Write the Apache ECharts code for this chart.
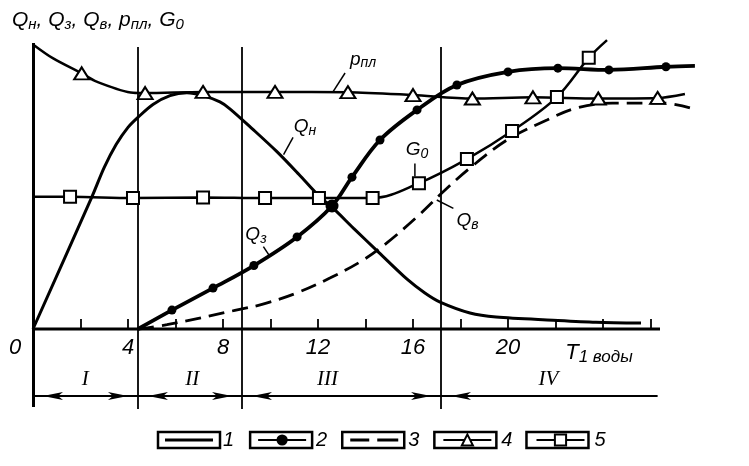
<!DOCTYPE html>
<html>
<head>
<meta charset="utf-8">
<script src="https://cdn.jsdelivr.net/npm/echarts@6.0.0/dist/echarts.min.js"></script>
<style>
html,body{margin:0;padding:0;background:#fff;}
#chart{width:749px;height:466px;}
</style>
</head>
<body>
<div id="chart"></div>
<script>
// ---------------- data ----------------
const xTickValues = [2, 4, 6, 8, 10, 12, 14, 16, 18, 20, 22, 24, 26];
const xLabelValues = [0, 4, 8, 12, 16, 20];
const stageBounds = [0, 4.42, 8.8, 17.18, 26.3];
const stageNames = ['I', 'II', 'III', 'IV'];
const stageLabelX = [2.2, 6.7, 12.4, 21.7];
const legendNames = ['1', '2', '3', '4', '5'];
const xAxisEnd = 26.4;

// 1: Qн (oil rate)
const qnX = [0, 2.48, 3.0, 3.5, 4.0, 4.42, 5.05, 5.77, 6.48, 7.16, 7.87, 8.29, 9.26, 10.27, 11.2, 12.04, 12.59, 13.5, 14.48, 15.75, 16.5, 17.14, 18.4, 19.5, 21.9, 23.7, 25.6];
const qnY = [0, 46.2, 56.5, 64.5, 70.5, 74.0, 78.5, 81.6, 82.6, 81.6, 79.4, 77.0, 69.8, 62.0, 54.0, 46.5, 42.6, 35.2, 27.4, 17.4, 12.6, 9.4, 5.6, 4.2, 3.1, 2.4, 2.1];

// 2: Qз (injection)
const q3X = [4.42, 5.85, 7.58, 9.3, 11.12, 12.59, 13.43, 14.61, 16.17, 17.85, 20.0, 22.1, 24.25, 26.65, 27.87];
const q3Y = [0, 6.6, 14.3, 22.2, 32.2, 43.0, 53.1, 66.1, 76.6, 85.3, 89.9, 91.2, 90.6, 91.7, 92.0];
const q3Dot = [0, 1, 1, 1, 1, 1, 1, 1, 1, 1, 1, 1, 1, 1, 0];
const junctionX = 12.59;

// 3: Qв (water)
const qvX = [4.42, 5.64, 8.5, 9.68, 11.1, 12.5, 13.9, 14.9, 16.17, 17.26, 18.4, 19.96, 21.64, 22.9, 24.4, 26.5, 27.66];
const qvY = [0, 1.5, 6.5, 8.7, 12.6, 17.8, 24.1, 30.1, 39.2, 47.9, 56.3, 66.1, 73.1, 77.3, 79.0, 79.0, 77.3];

// 4: pпл (reservoir pressure)
const rhoX = [0, 0.85, 2.05, 2.68, 4.22, 4.72, 7.16, 10.19, 13.26, 16.0, 18.5, 21.05, 23.8, 26.3, 27.45];
const rhoY = [99.5, 94.6, 89.4, 86.5, 82.6, 82.5, 82.9, 82.9, 82.8, 81.8, 80.6, 81.0, 80.6, 80.8, 82.2];
const rhoMark = [0, 0, 1, 0, 0, 1, 1, 1, 1, 1, 1, 1, 1, 1, 0];

// 5: G0 (gas factor)
const g0X = [0, 1.56, 4.21, 7.16, 9.77, 12.04, 14.3, 16.25, 18.27, 20.17, 22.06, 23.4, 24.17];
const g0Y = [46.2, 46.2, 45.8, 46.0, 45.8, 45.8, 45.8, 51.0, 59.4, 69.2, 81.1, 94.8, 101.0];
const g0Mark = [0, 1, 1, 1, 1, 1, 1, 1, 1, 1, 1, 1, 0];

// ---------------- build ----------------
const FONT = "'Liberation Sans', Arial, sans-serif";
const SERIF = "'Liberation Serif', 'DejaVu Serif', serif";
const BLACK = '#000';

const pairs = (xs, ys) => xs.map((x, i) => [x, ys[i]]);
const marked = (xs, ys, flags) => xs.map((x, i) => flags[i] ? [x, ys[i]] : { value: [x, ys[i]], symbol: 'none' });

const q3Data = marked(q3X, q3Y, q3Dot).map(d => (Array.isArray(d) && d[0] === junctionX) ? { value: d, symbolSize: 13 } : d);

const arrowY = -23.4;
const frameLines = [];
frameLines.push([{ coord: [0, -27.3], lineStyle: { width: 3 } }, { coord: [0, 100], lineStyle: { width: 3 } }]);
stageBounds.slice(1, 4).forEach(b => {
  frameLines.push([{ coord: [b, -28] }, { coord: [b, 98.6] }]);
});
for (let i = 0; i < stageNames.length; i++) {
  frameLines.push([
    { coord: [stageBounds[i], arrowY], symbol: 'arrow' },
    { coord: [stageBounds[i + 1], arrowY], symbol: i < stageNames.length - 1 ? 'arrow' : 'none' }
  ]);
}

const GRID_TOP = 34.42, GRID_H = 374.66;
const zeroOffset = 329 - (GRID_TOP + GRID_H); // move the x axis up onto y = 0

const lineIcon = 'path://M0,5.5h48v3h-48z';
const dashIcon = 'path://M0,5.5h19v3h-19zM27,5.5h21v3h-21z';

const option = {
  animation: false,
  backgroundColor: '#fff',
  grid: { left: 33, top: GRID_TOP, width: 665, height: GRID_H, containLabel: false, outerBoundsMode: 'none' },
  xAxis: {
    type: 'value', min: 0, max: 28, position: 'bottom', offset: zeroOffset,
    axisLine: { show: false, onZero: false },
    splitLine: { show: false },
    axisTick: { show: true, inside: true, length: 10, lineStyle: { color: BLACK, width: 1.8 }, customValues: xTickValues },
    axisLabel: {
      customValues: xLabelValues, margin: 8, color: BLACK, fontSize: 22, fontStyle: 'italic', fontFamily: FONT,
      formatter: v => v === 0 ? '{z|0}' : String(v),
      rich: { z: { padding: [0, 36, 0, 0], fontSize: 22, fontStyle: 'italic', fontFamily: FONT, color: BLACK } }
    }
  },
  yAxis: { type: 'value', min: -28, max: 103, show: false },
  legend: {
    data: [
      { name: '1', icon: lineIcon },
      { name: '2' },
      { name: '3', icon: dashIcon },
      { name: '4' },
      { name: '5' }
    ],
    left: 165, top: 430, padding: 0, itemWidth: 48, itemHeight: 14, itemGap: 23,
    selectedMode: false,
    textStyle: { fontSize: 20, fontStyle: 'italic', fontFamily: FONT, color: BLACK, padding: [0, 0, 0, 5], lineHeight: 20 }
  },
  series: [
    {
      name: legendNames[0], type: 'line', data: pairs(qnX, qnY), smooth: 0.3, symbol: 'none', clip: false, z: 3,
      lineStyle: { color: BLACK, width: 3 }, itemStyle: { color: BLACK }
    },
    {
      name: legendNames[1], type: 'line', data: q3Data, smooth: 0.35, symbol: 'circle', symbolSize: 9, showSymbol: true, clip: false, z: 4,
      lineStyle: { color: BLACK, width: 3.8 }, itemStyle: { color: BLACK }
    },
    {
      name: legendNames[2], type: 'line', data: pairs(qvX, qvY), smooth: 0.35, symbol: 'none', clip: false, z: 3,
      lineStyle: { color: BLACK, width: 2.8, type: [16, 8] }, itemStyle: { color: BLACK }
    },
    {
      name: legendNames[3], type: 'line', data: marked(rhoX, rhoY, rhoMark), smooth: 0.3, symbol: 'emptyTriangle', symbolSize: [15, 12], showSymbol: true, clip: false, z: 5,
      lineStyle: { color: BLACK, width: 2.5 }, itemStyle: { color: BLACK }
    },
    {
      name: legendNames[4], type: 'line', data: marked(g0X, g0Y, g0Mark), smooth: 0.35, symbol: 'emptyRect', symbolSize: 12, showSymbol: true, clip: false, z: 5,
      lineStyle: { color: BLACK, width: 2.5 }, itemStyle: { color: BLACK }
    },
    {
      name: 'frame', type: 'line', data: [[0, 0], [xAxisEnd, 0]], symbol: 'none', clip: false, z: 2, silent: true,
      lineStyle: { color: BLACK, width: 3 },
      markLine: {
        silent: true, symbol: 'none', symbolSize: [6, 20], symbolOffset: [[0, '50%'], [0, '50%']],
        label: { show: false }, emphasis: { disabled: true },
        lineStyle: { color: BLACK, width: 1.8, type: 'solid' },
        data: frameLines
      }
    }
  ]
};

const chart = echarts.init(document.getElementById('chart'), null, { renderer: 'canvas' });
chart.setOption(option);

const P = (x, y) => chart.convertToPixel({ gridIndex: 0 }, [x, y]);
const graphics = [];

// legend boxes
const step = 48 + 5 + 5 + 11.12 + 23;
legendNames.forEach((n, i) => {
  graphics.push({
    type: 'rect', silent: true,
    shape: { x: 158 + step * i, y: 432, width: 62, height: 16 },
    style: { fill: 'none', stroke: BLACK, lineWidth: 2.5 }
  });
});

function richText(text, at, opts) {
  const p = P(at[0], at[1]);
  return {
    type: 'text', silent: true, x: p[0], y: p[1], z: 10,
    style: Object.assign({
      text: text, fill: BLACK, align: 'center', verticalAlign: 'middle',
      textAlign: 'center', textVerticalAlign: 'middle',
      fontSize: 19, fontStyle: 'italic', fontFamily: FONT,
      rich: {
        m: { fontSize: 19, fontStyle: 'italic', fontFamily: FONT, lineHeight: 22 },
        s: { fontSize: 14, fontStyle: 'italic', fontFamily: FONT, lineHeight: 10, verticalAlign: 'bottom' }
      }
    }, opts || {})
  };
}
function leader(a, b) {
  const p1 = P(a[0], a[1]), p2 = P(b[0], b[1]);
  return { type: 'line', silent: true, z: 9, shape: { x1: p1[0], y1: p1[1], x2: p2[0], y2: p2[1] }, style: { stroke: BLACK, lineWidth: 1.5 } };
}

graphics.push(richText('{m|p}{s|пл}', [13.9, 94.3]));
graphics.push(leader([12.63, 82.9], [13.14, 89.5]));
graphics.push(richText('{m|Q}{s|н}', [11.45, 70.6]));
graphics.push(leader([10.55, 61.0], [10.95, 67.0]));
graphics.push(richText('{m|G}{s|0}', [16.17, 62.6]));
graphics.push(leader([16.08, 53.3], [16.08, 57.9]));
graphics.push(richText('{m|Q}{s|з}', [9.39, 32.9]));
graphics.push(leader([9.98, 25.3], [9.7, 28.8]));
graphics.push(richText('{m|Q}{s|в}', [18.3, 37.8]));
graphics.push(leader([17.0, 45.1], [17.7, 42.2]));
graphics.push(richText('{t|T}{s|1 воды}', [23.83, -8.4], {
  rich: {
    t: { fontSize: 22, fontStyle: 'italic', fontFamily: FONT, lineHeight: 26 },
    s: { fontSize: 17, fontStyle: 'italic', fontFamily: FONT, lineHeight: 14, verticalAlign: 'bottom' }
  }
}));

stageNames.forEach((name, i) => {
  const p = P(stageLabelX[i], -17.8);
  graphics.push({
    type: 'text', silent: true, x: p[0], y: p[1], z: 10,
    style: { text: name, fill: BLACK, align: 'center', verticalAlign: 'middle', textAlign: 'center', textVerticalAlign: 'middle',
      fontSize: 21, fontStyle: 'italic', fontFamily: SERIF }
  });
});

// axis title
graphics.push({
  type: 'text', silent: true, x: 12, y: 20, z: 10,
  style: {
    text: '{q|Q}{s|н}{q|, Q}{s|з}{q|, Q}{s|в}{q|, p}{s|пл}{q|, G}{s|0}',
    fill: BLACK, align: 'left', verticalAlign: 'middle', textAlign: 'left', textVerticalAlign: 'middle',
    fontSize: 21, fontStyle: 'italic', fontFamily: FONT,
    rich: {
      q: { fontSize: 21, fontStyle: 'italic', fontFamily: FONT, lineHeight: 24 },
      s: { fontSize: 15, fontStyle: 'italic', fontFamily: FONT, lineHeight: 11, verticalAlign: 'bottom' }
    }
  }
});

chart.setOption({ graphic: graphics });
</script>
</body>
</html>
